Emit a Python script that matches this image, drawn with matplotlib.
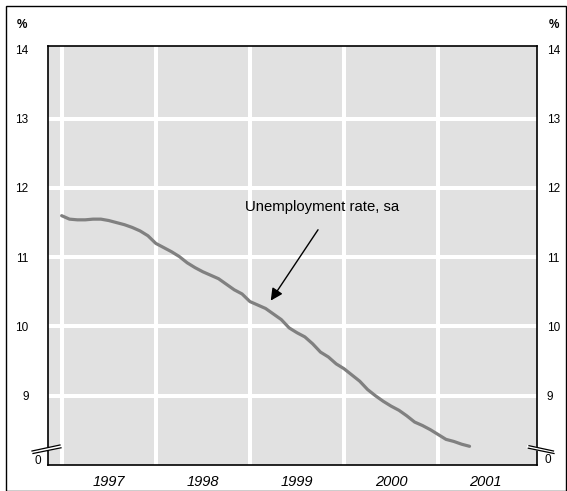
import numpy as np
import matplotlib
matplotlib.use("Agg")
import matplotlib.pyplot as plt
from matplotlib.lines import Line2D
from matplotlib.patches import Rectangle

plt.rcParams["font.family"] = ["Liberation Sans", "DejaVu Sans"]

# data: monthly unemployment rate, Jan 1997 - May 2001
start_year = 1997
rate = [11.60, 11.55, 11.54, 11.54, 11.55, 11.55, 11.53, 11.50, 11.47, 11.43,
        11.38, 11.31, 11.20, 11.14, 11.08, 11.01, 10.92, 10.85, 10.79, 10.74,
        10.69, 10.61, 10.53, 10.47, 10.36, 10.31, 10.26, 10.18, 10.10, 9.98,
        9.91, 9.85, 9.75, 9.63, 9.56, 9.46, 9.39, 9.30, 9.21, 9.09,
        9.00, 8.92, 8.85, 8.79, 8.71, 8.62, 8.57, 8.51, 8.44, 8.37,
        8.34, 8.30, 8.27]
years = [1997, 1998, 1999, 2000, 2001]
y_ticks = [9, 10, 11, 12, 13, 14]

x = start_year + np.arange(len(rate)) / 12.0

W, H = 567, 491
fig = plt.figure(figsize=(W / 100, H / 100), dpi=100)

# outer frame
fig.add_artist(Rectangle((5.5 / W, 0.5 / H), 560.5 / W, 485 / H, transform=fig.transFigure,
                         fill=False, edgecolor="black", lw=1.0))

ax = fig.add_axes([48 / W, 26 / H, 489 / W, 419 / H])
ax.set_facecolor("#e1e1e1")
for s in ax.spines.values():
    s.set_linewidth(1.2)
    s.set_color("black")

ax.plot(x, rate, color="#808080", lw=2.3, solid_capstyle="round", zorder=3)

ax.set_xlim(1996.855, 2002.05)
ax.set_ylim(8.0, 14.05)

# grid lines at year boundaries, labels at mid-year
ax.set_xticks([yr + 0.5 for yr in years])
ax.set_xticklabels([str(yr) for yr in years], fontsize=10.5, style="italic")
ax.set_yticks(y_ticks)
ax.set_yticklabels([str(v) for v in y_ticks], fontsize=8.5)
ax.tick_params(axis="x", which="both", length=0, pad=7)
ax.tick_params(axis="y", which="both", length=0, pad=14)
ax.grid(False)
for yr in years:
    ax.axvline(yr, color="white", lw=2.9, zorder=1)
for v in y_ticks[:-1]:
    ax.axhline(v, color="white", lw=2.9, zorder=1)

ax2 = ax.twinx()
ax2.set_ylim(ax.get_ylim())
ax2.set_yticks(y_ticks)
ax2.set_yticklabels([str(v) for v in y_ticks], fontsize=8.5)
ax2.tick_params(axis="y", length=0, pad=7)
for s in ax2.spines.values():
    s.set_visible(False)

# "%" and "0" labels
fig.text(22 / W, 1 - 24.5 / H, "%", fontsize=8.5, fontweight="bold", ha="center", va="center")
fig.text(553.5 / W, 1 - 24.5 / H, "%", fontsize=8.5, fontweight="bold", ha="center", va="center")
fig.text(38 / W, 1 - 461 / H, "0", fontsize=8.5, ha="center", va="center")
fig.text(547.5 / W, 1 - 460 / H, "0", fontsize=8.5, ha="center", va="center")

# axis break marks
def brk(x0, y0, x1, y1):
    xs = np.array([x0, x1]) / W
    ys = 1 - np.array([y0, y1]) / H
    return xs, ys

xs, ys = brk(32, 452, 61, 446.5)
fig.add_artist(Line2D(xs, ys, color="white", lw=2.5, transform=fig.transFigure))
xs, ys = brk(32, 451, 60, 445)
fig.add_artist(Line2D(xs, ys, color="black", lw=0.9, transform=fig.transFigure))
xs, ys = brk(33, 453.5, 61, 447.8)
fig.add_artist(Line2D(xs, ys, color="black", lw=0.9, transform=fig.transFigure))
xs, ys = brk(528.5, 447, 554, 452.3)
fig.add_artist(Line2D(xs, ys, color="white", lw=2.5, transform=fig.transFigure))
xs, ys = brk(529, 445.7, 553.5, 451)
fig.add_artist(Line2D(xs, ys, color="black", lw=0.9, transform=fig.transFigure))
xs, ys = brk(528.3, 448.2, 554, 453.5)
fig.add_artist(Line2D(xs, ys, color="black", lw=0.9, transform=fig.transFigure))

# annotation
ax.annotate("", xy=(1999.205, 10.34), xytext=(1999.74, 11.43),
            arrowprops=dict(arrowstyle="-|>", color="black", lw=1.0, mutation_scale=18),
            zorder=4)
ax.text(1998.95, 11.72, "Unemployment rate, sa", fontsize=10.7, ha="left", va="center")

fig.savefig("out.png", dpi=100)
